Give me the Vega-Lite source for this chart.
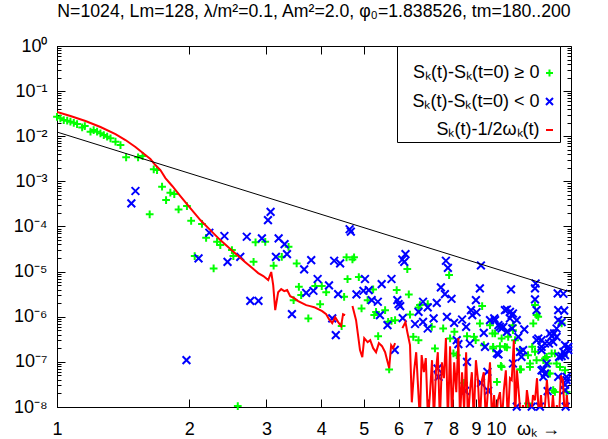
{
  "$schema": "https://vega.github.io/schema/vega-lite/v6.json",
  "width": 514,
  "height": 361,
  "autosize": {"type": "none"},
  "padding": {"left": 57, "top": 46, "right": 37, "bottom": 32},
  "background": "white",
  "title": {
    "text": "N=1024, Lm=128, λ/m²=0.1, Am²=2.0, φ₀=1.838526, tm=180..200",
    "font": "Liberation Sans", "fontSize": 17.7, "fontWeight": "normal", "color": "black",
    "anchor": "middle", "baseline": "alphabetic", "offset": 2
  },
  "datasets": {
    "blk": [{"w": 1, "v": 0.0124}, {"w": 14.82, "v": 3.5e-6}],
    "red": [
      {"w":1.0,"v":0.0344,"t":"half"},{"w":1.073,"v":0.0281,"t":"half"},{"w":1.161,"v":0.0218,"t":"half"},{"w":1.256,"v":0.016,"t":"half"},{"w":1.359,"v":0.0112,"t":"half"},{"w":1.432,"v":0.00825,"t":"half"},{"w":1.509,"v":0.00578,"t":"half"},{"w":1.59,"v":0.00383,"t":"half"},{"w":1.632,"v":0.00313,"t":"half"},{"w":1.675,"v":0.0023,"t":"half"},{"w":1.72,"v":0.00178,"t":"half"},{"w":1.766,"v":0.00118,"t":"half"},{"w":1.83,"v":0.00079,"t":"half"},{"w":1.91,"v":0.000472,"t":"half"},{"w":2.012,"v":0.000256,"t":"half"},{"w":2.121,"v":0.000139,"t":"half"},{"w":2.235,"v":8.3e-5,"t":"half"},{"w":2.355,"v":5.0e-5,"t":"half"},{"w":2.482,"v":3.16e-5,"t":"half"},{"w":2.588,"v":2.21e-5,"t":"half"},{"w":2.685,"v":1.62e-5,"t":"half"},{"w":2.785,"v":1.2e-5,"t":"half"},{"w":2.873,"v":9.26e-6,"t":"half"},{"w":2.951,"v":7.96e-6,"t":"half"},{"w":3.028,"v":6.5e-6,"t":"half"},{"w":3.076,"v":9.8e-6,"t":"half"},{"w":3.108,"v":5.0e-6,"t":"half"},{"w":3.141,"v":1.4e-6,"t":"half"},{"w":3.19,"v":3.5e-6,"t":"half"},{"w":3.241,"v":4.09e-6,"t":"half"},{"w":3.293,"v":3.69e-6,"t":"half"},{"w":3.344,"v":3.9e-6,"t":"half"},{"w":3.398,"v":2.86e-6,"t":"half"},{"w":3.469,"v":2.59e-6,"t":"half"},{"w":3.543,"v":2.22e-6,"t":"half"},{"w":3.618,"v":2.0e-6,"t":"half"},{"w":3.695,"v":1.81e-6,"t":"half"},{"w":3.773,"v":1.72e-6,"t":"half"},{"w":3.854,"v":1.63e-6,"t":"half"},{"w":3.935,"v":1.47e-6,"t":"half"},{"w":4.018,"v":1.33e-6,"t":"half"},{"w":4.104,"v":1.14e-6,"t":"half"},{"w":4.165,"v":8.8e-7,"t":"half"},{"w":4.236,"v":7.2e-7,"t":"half"},{"w":4.301,"v":9.8e-7,"t":"half"},{"w":4.37,"v":7.6e-7,"t":"half"},{"w":4.438,"v":6.2e-7,"t":"half"},{"w":4.484,"v":1.14e-6,"t":"half"},{"w":4.532,"v":1.09e-6,"t":"half"},{"w":4.62,"v":null,"t":"half"},{"w":4.71,"v":1.72e-6,"t":"half"},{"w":4.8,"v":8.4e-7,"t":"half"},{"w":4.85,"v":3.92e-7,"t":"half"},{"w":4.9,"v":1.82e-7,"t":"half"},{"w":4.96,"v":1.27e-7,"t":"half"},{"w":5.01,"v":3.36e-7,"t":"half"},{"w":5.1,"v":2.73e-7,"t":"half"},{"w":5.17,"v":3.03e-7,"t":"half"},{"w":5.25,"v":2.01e-7,"t":"half"},{"w":5.33,"v":1.64e-7,"t":"half"},{"w":5.41,"v":2.6e-7,"t":"half"},{"w":5.5,"v":2.23e-7,"t":"half"},{"w":5.59,"v":1.64e-7,"t":"half"},{"w":5.65,"v":1.09e-7,"t":"half"},{"w":5.71,"v":7.3e-8,"t":"half"},{"w":5.77,"v":2.35e-7,"t":"half"},{"w":5.83,"v":2.01e-7,"t":"half"},{"w":5.89,"v":2.6e-7,"t":"half"},{"w":6.0,"v":null,"t":"half"},{"w":6.12,"v":5.6e-7,"t":"half"},{"w":6.22,"v":7.6e-7,"t":"half"},
      {"w":6.28,"v":4.6e-7,"t":"half"},{"w":6.37,"v":2.35e-7,"t":"half"},{"w":6.43,"v":1.27e-8,"t":"half"},{"w":6.51,"v":6.5e-8,"t":"half"},{"w":6.58,"v":1.64e-7,"t":"half"},{"w":6.66,"v":1.83e-8,"t":"half"},{"w":6.71,"v":5e-9,"t":"half"},{"w":6.77,"v":1.41e-7,"t":"half"},{"w":6.85,"v":5.9e-8,"t":"half"},{"w":6.92,"v":1.21e-7,"t":"half"},{"w":7.0,"v":5e-9,"t":"half"},{"w":7.07,"v":1.83e-8,"t":"half"},{"w":7.15,"v":1.09e-7,"t":"half"},{"w":7.22,"v":5e-9,"t":"half"},{"w":7.3,"v":6.5e-8,"t":"half"},{"w":7.37,"v":1.64e-7,"t":"half"},{"w":7.45,"v":5e-9,"t":"half"},{"w":7.53,"v":9.8e-8,"t":"half"},{"w":7.61,"v":4.35e-8,"t":"half"},{"w":7.69,"v":3.36e-7,"t":"half"},{"w":7.77,"v":5e-9,"t":"half"},{"w":7.86,"v":2.23e-7,"t":"half"},{"w":7.94,"v":5e-9,"t":"half"},{"w":8.03,"v":9.8e-8,"t":"half"},{"w":8.12,"v":2.13e-8,"t":"half"},{"w":8.21,"v":3.36e-7,"t":"half"},{"w":8.28,"v":5e-9,"t":"half"},{"w":8.37,"v":5.9e-8,"t":"half"},{"w":8.46,"v":8.5e-9,"t":"half"},{"w":8.55,"v":1.64e-7,"t":"half"},{"w":8.63,"v":5e-9,"t":"half"},{"w":8.72,"v":2.13e-8,"t":"half"},{"w":8.81,"v":5.9e-8,"t":"half"},{"w":8.9,"v":5e-9,"t":"half"},{"w":9.0,"v":1.09e-7,"t":"half"},{"w":9.09,"v":4.35e-8,"t":"half"},{"w":9.19,"v":5e-9,"t":"half"},{"w":9.29,"v":3.94e-8,"t":"half"},{"w":9.38,"v":5.9e-8,"t":"half"},{"w":9.48,"v":5e-9,"t":"half"},{"w":9.58,"v":2.13e-8,"t":"half"},{"w":9.69,"v":9.8e-8,"t":"half"},{"w":9.79,"v":5e-9,"t":"half"},{"w":9.9,"v":1.83e-8,"t":"half"},{"w":10.0,"v":5e-9,"t":"half"},{"w":10.1,"v":1.41e-8,"t":"half"},{"w":10.21,"v":2.13e-8,"t":"half"},{"w":10.32,"v":5e-9,"t":"half"},{"w":10.42,"v":2.36e-8,"t":"half"},{"w":10.53,"v":6.5e-8,"t":"half"},{"w":10.64,"v":5e-9,"t":"half"},{"w":10.76,"v":4.35e-8,"t":"half"},{"w":10.86,"v":3.94e-8,"t":"half"},{"w":10.98,"v":3.03e-7,"t":"half"},{"w":11.05,"v":5e-9,"t":"half"},{"w":11.16,"v":6.5e-8,"t":"half"},{"w":11.28,"v":1.83e-8,"t":"half"},{"w":11.4,"v":5e-9,"t":"half"},{"w":11.52,"v":1.1e-8,"t":"half"},{"w":11.64,"v":5e-9,"t":"half"},{"w":11.76,"v":2.36e-8,"t":"half"},{"w":11.89,"v":1.1e-8,"t":"half"},{"w":12.01,"v":5e-9,"t":"half"},{"w":12.14,"v":1.83e-8,"t":"half"},{"w":12.27,"v":1.41e-8,"t":"half"},{"w":12.4,"v":4.35e-8,"t":"half"},{"w":12.53,"v":5e-9,"t":"half"},{"w":12.66,"v":1.83e-8,"t":"half"},{"w":12.79,"v":5e-9,"t":"half"},{"w":12.93,"v":1.1e-8,"t":"half"},{"w":13.06,"v":3.94e-8,"t":"half"},{"w":13.2,"v":1.1e-8,"t":"half"},{"w":13.34,"v":5e-9,"t":"half"},{"w":13.48,"v":1.83e-8,"t":"half"},{"w":13.62,"v":5e-9,"t":"half"},{"w":13.76,"v":1.1e-8,"t":"half"},{"w":13.91,"v":5e-9,"t":"half"},{"w":14.05,"v":5.0e-8,"t":"half"},{"w":14.2,"v":3.94e-8,"t":"half"},{"w":14.36,"v":5e-9,"t":"half"},{"w":14.5,"v":1.83e-8,"t":"half"},{"w":14.67,"v":5e-9,"t":"half"}
    ],
    "pos": [
      {"w":1.0,"v":0.027,"t":"pos"},{"w":1.018,"v":0.025,"t":"pos"},{"w":1.036,"v":0.0229,"t":"pos"},{"w":1.055,"v":0.0221,"t":"pos"},{"w":1.073,"v":0.021,"t":"pos"},{"w":1.092,"v":0.0199,"t":"pos"},{"w":1.111,"v":0.0186,"t":"pos"},{"w":1.141,"v":0.0157,"t":"pos"},{"w":1.157,"v":0.0168,"t":"pos"},{"w":1.192,"v":0.0126,"t":"pos"},{"w":1.212,"v":0.0137,"t":"pos"},{"w":1.234,"v":0.0126,"t":"pos"},{"w":1.256,"v":0.0116,"t":"pos"},{"w":1.278,"v":0.0106,"t":"pos"},{"w":1.301,"v":0.00978,"t":"pos"},{"w":1.324,"v":0.009,"t":"pos"},{"w":1.359,"v":0.00757,"t":"pos"},{"w":1.395,"v":0.00639,"t":"pos"},{"w":1.437,"v":0.00341,"t":"pos"},{"w":1.53,"v":0.00341,"t":"pos"},{"w":1.567,"v":0.00364,"t":"pos"},{"w":1.661,"v":0.00185,"t":"pos"},{"w":1.69,"v":0.00178,"t":"pos"},{"w":1.735,"v":0.000761,"t":"pos"},{"w":1.772,"v":0.000385,"t":"pos"},{"w":1.812,"v":0.00056,"t":"pos"},{"w":1.85,"v":0.000524,"t":"pos"},{"w":1.892,"v":0.000239,"t":"pos"},{"w":1.977,"v":0.000284,"t":"pos"},{"w":1.626,"v":0.000186,"t":"pos"},{"w":2.021,"v":0.000134,"t":"pos"},{"w":2.139,"v":0.000114,"t":"pos"},{"w":2.186,"v":5.62e-5,"t":"pos"},{"w":2.315,"v":4.59e-5,"t":"pos"},{"w":2.355,"v":3.87e-5,"t":"pos"},{"w":2.503,"v":3.0e-5,"t":"pos"},{"w":2.522,"v":2.21e-5,"t":"pos"},{"w":2.059,"v":2.21e-5,"t":"pos"},{"w":2.274,"v":1.18e-5,"t":"pos"},{"w":2.581,"v":1.05e-8,"t":"pos"},
      {"w":2.804,"v":1.65e-5,"t":"pos"},{"w":2.833,"v":4.47e-5,"t":"pos"},{"w":2.981,"v":4.59e-5,"t":"pos"},{"w":3.115,"v":1.35e-5,"t":"pos"},{"w":3.369,"v":3.55e-5,"t":"pos"},{"w":3.251,"v":2.13e-5,"t":"pos"},{"w":3.515,"v":1.52e-5,"t":"pos"},{"w":3.556,"v":4.61e-6,"t":"pos"},{"w":3.599,"v":3.02e-6,"t":"pos"},{"w":3.459,"v":2.33e-6,"t":"pos"},{"w":3.737,"v":9.2e-7,"t":"pos"},{"w":3.976,"v":1.9e-6,"t":"pos"},{"w":3.874,"v":4.78e-6,"t":"pos"},{"w":4.01,"v":4.78e-6,"t":"pos"},{"w":4.104,"v":3.5e-6,"t":"pos"},{"w":4.45,"v":6.2e-7,"t":"pos"},{"w":4.509,"v":2.76e-6,"t":"pos"},{"w":4.566,"v":2.07e-5,"t":"pos"},{"w":4.71,"v":1.86e-5,"t":"pos"},{"w":4.75,"v":2.07e-5,"t":"pos"},{"w":4.59,"v":6.84e-6,"t":"pos"},{"w":4.87,"v":7.6e-6,"t":"pos"},{"w":4.94,"v":1.53e-6,"t":"pos"},{"w":5.1,"v":2.33e-6,"t":"pos"},{"w":5.25,"v":4.04e-6,"t":"pos"},{"w":5.28,"v":1.09e-6,"t":"pos"},{"w":5.33,"v":1.28e-6,"t":"pos"},{"w":5.59,"v":1.4e-6,"t":"pos"},{"w":5.68,"v":7.7e-7,"t":"pos"},{"w":5.78,"v":8.1e-7,"t":"pos"},{"w":5.89,"v":8.4e-7,"t":"pos"},{"w":5.94,"v":3.9e-6,"t":"pos"},{"w":5.39,"v":3.72e-7,"t":"pos"},{"w":5.71,"v":6.8e-8,"t":"pos"},
      {"w":6.28,"v":1.14e-5,"t":"pos"},{"w":6.33,"v":3.13e-6,"t":"pos"},{"w":6.37,"v":1.12e-6,"t":"pos"},{"w":6.66,"v":1.61e-6,"t":"pos"},{"w":6.71,"v":1.81e-6,"t":"pos"},{"w":6.99,"v":1.9e-6,"t":"pos"},{"w":6.48,"v":3.59e-7,"t":"pos"},{"w":6.66,"v":3.03e-7,"t":"pos"},{"w":7.26,"v":1.98e-7,"t":"pos"},{"w":7.14,"v":5.98e-7,"t":"pos"},{"w":7.58,"v":5.5e-7,"t":"pos"},{"w":7.82,"v":8.4e-6,"t":"pos"},{"w":7.86,"v":3.3e-7,"t":"pos"},{"w":8.04,"v":4.63e-7,"t":"pos"},{"w":8.0,"v":1.54e-7,"t":"pos"},{"w":8.14,"v":1.41e-7,"t":"pos"},{"w":8.59,"v":3.72e-7,"t":"pos"},{"w":8.91,"v":3.59e-7,"t":"pos"},{"w":8.99,"v":3.03e-7,"t":"pos"},{"w":9.3,"v":1.72e-6,"t":"pos"},{"w":9.19,"v":7.1e-7,"t":"pos"},{"w":9.38,"v":2.35e-7,"t":"pos"},{"w":9.69,"v":6.5e-7,"t":"pos"},{"w":9.85,"v":2.15e-7,"t":"pos"},{"w":9.95,"v":4.27e-7,"t":"pos"},{"w":10.21,"v":5.98e-7,"t":"pos"},{"w":10.26,"v":8.2e-8,"t":"pos"},{"w":10.3,"v":3.3e-7,"t":"pos"},{"w":10.48,"v":2.15e-7,"t":"pos"},{"w":10.66,"v":3.59e-7,"t":"pos"},{"w":10.93,"v":6.5e-7,"t":"pos"},{"w":11.05,"v":3.03e-7,"t":"pos"},{"w":11.34,"v":1.82e-7,"t":"pos"},{"w":11.4,"v":6.8e-8,"t":"pos"},{"w":11.83,"v":1.41e-7,"t":"pos"},{"w":11.95,"v":9.2e-8,"t":"pos"},{"w":12.09,"v":2.15e-7,"t":"pos"},{"w":12.27,"v":1.67e-7,"t":"pos"},{"w":12.27,"v":1.81e-6,"t":"pos"},{"w":12.37,"v":1.09e-6,"t":"pos"},{"w":12.48,"v":9.97e-7,"t":"pos"},{"w":12.82,"v":1.09e-7,"t":"pos"},{"w":13.05,"v":1.29e-7,"t":"pos"},{"w":13.16,"v":9.2e-8,"t":"pos"},{"w":13.27,"v":5.5e-8,"t":"pos"},{"w":13.39,"v":1.54e-7,"t":"pos"},{"w":13.62,"v":2.16e-8,"t":"pos"},{"w":13.74,"v":9.2e-8,"t":"pos"},{"w":14.36,"v":6.5e-8,"t":"pos"},{"w":14.48,"v":2.16e-8,"t":"pos"},{"w":8.46,"v":3.42e-8,"t":"pos"},{"w":10.05,"v":3.6e-8,"t":"pos"},{"w":11.83,"v":1.2e-8,"t":"pos"},
      {"w":12.16,"v":7.1e-7,"t":"pos"},{"w":9.82,"v":4.27e-7,"t":"pos"},{"w":10.21,"v":2.23e-7,"t":"pos"},{"w":10.59,"v":2.09e-7,"t":"pos"},{"w":9.85,"v":1.98e-7,"t":"pos"},{"w":10.93,"v":5.05e-7,"t":"pos"},{"w":10.3,"v":7.7e-8,"t":"pos"},{"w":11.34,"v":6.8e-8,"t":"pos"},{"w":11.95,"v":7.7e-8,"t":"pos"},{"w":12.37,"v":1.09e-7,"t":"pos"},{"w":12.93,"v":1.19e-7,"t":"pos"},{"w":13.16,"v":5.5e-8,"t":"pos"},{"w":13.5,"v":2.36e-8,"t":"pos"},{"w":13.99,"v":7.7e-8,"t":"pos"},{"w":14.11,"v":7.1e-7,"t":"pos"},{"w":13.62,"v":1.54e-7,"t":"pos"},{"w":14.24,"v":1.41e-7,"t":"pos"}
    ],
    "neg": [
      {"w":1.509,"v":6.12e-4,"t":"neg"},{"w":1.477,"v":3.25e-4,"t":"neg"},{"w":2.223,"v":7.26e-5,"t":"neg"},{"w":2.406,"v":6.16e-5,"t":"neg"},{"w":2.101,"v":1.96e-5,"t":"neg"},{"w":2.446,"v":1.65e-5,"t":"neg"},{"w":1.972,"v":1.09e-7,"t":"neg"},{"w":2.615,"v":2.13e-5,"t":"neg"},{"w":2.706,"v":5.92e-5,"t":"neg"},{"w":2.929,"v":5.44e-5,"t":"neg"},{"w":2.756,"v":2.25e-6,"t":"neg"},{"w":2.877,"v":2.25e-6,"t":"neg"},{"w":3.024,"v":1.39e-4,"t":"neg"},{"w":3.066,"v":2.11e-4,"t":"neg"},{"w":3.198,"v":5.44e-5,"t":"neg"},{"w":3.299,"v":4.08e-5,"t":"neg"},{"w":3.341,"v":2.45e-5,"t":"neg"},{"w":3.153,"v":2.13e-5,"t":"neg"},{"w":3.429,"v":1.14e-6,"t":"neg"},{"w":3.656,"v":1.12e-5,"t":"neg"},{"w":3.794,"v":1.8e-5,"t":"neg"},{"w":3.924,"v":6.85e-6,"t":"neg"},{"w":3.838,"v":3.76e-6,"t":"neg"},{"w":3.695,"v":3.38e-6,"t":"neg"},{"w":4.165,"v":4.94e-6,"t":"neg"},{"w":4.236,"v":9.2e-7,"t":"neg"},{"w":4.316,"v":3.92e-7,"t":"neg"},{"w":4.279,"v":1.74e-5,"t":"neg"},{"w":4.415,"v":1.52e-5,"t":"neg"},{"w":4.37,"v":3.17e-6,"t":"neg"},{"w":4.64,"v":8.7e-5,"t":"neg"},{"w":4.67,"v":7.7e-5,"t":"neg"},{"w":4.81,"v":3.13e-6,"t":"neg"},{"w":5.03,"v":6.85e-6,"t":"neg"},{"w":4.99,"v":3.76e-6,"t":"neg"},{"w":5.13,"v":3.9e-6,"t":"neg"},{"w":5.21,"v":2.33e-6,"t":"neg"},{"w":5.38,"v":2.15e-6,"t":"neg"},{"w":5.49,"v":5.3e-6,"t":"neg"},{"w":5.44,"v":1.09e-6,"t":"neg"},{"w":5.66,"v":6.5e-7,"t":"neg"},{"w":5.78,"v":6.85e-6,"t":"neg"},{"w":5.96,"v":2.33e-6,"t":"neg"},{"w":6.0,"v":1.9e-6,"t":"neg"},{"w":6.12,"v":1.86e-5,"t":"neg"},{"w":6.13,"v":9.3e-7,"t":"neg"},{"w":6.22,"v":2.45e-5,"t":"neg"},{"w":6.18,"v":1.65e-5,"t":"neg"},{"w":6.05,"v":1.72e-6,"t":"neg"},{"w":6.82,"v":2.15e-6,"t":"neg"},{"w":6.66,"v":1.28e-6,"t":"neg"},{"w":6.99,"v":1.61e-6,"t":"neg"},{"w":6.54,"v":6.9e-7,"t":"neg"},{"w":6.82,"v":7.7e-7,"t":"neg"},{"w":6.99,"v":5.5e-7,"t":"neg"},{"w":7.21,"v":9.2e-7,"t":"neg"},{"w":7.33,"v":2.03e-6,"t":"neg"},{"w":7.49,"v":4.48e-6,"t":"neg"},{"w":7.65,"v":3.17e-6,"t":"neg"},{"w":7.92,"v":2.5e-6,"t":"neg"},{"w":7.73,"v":9.97e-7,"t":"neg"},{"w":7.69,"v":1.74e-5,"t":"neg"},{"w":7.77,"v":1.21e-5,"t":"neg"},{"w":8.03,"v":7.3e-7,"t":"neg"},{"w":8.14,"v":3.03e-7,"t":"neg"},{"w":8.21,"v":2.47e-7,"t":"neg"},{"w":8.37,"v":8.7e-7,"t":"neg"},{"w":8.55,"v":5.98e-7,"t":"neg"},{"w":8.59,"v":1.0e-7,"t":"neg"},{"w":8.72,"v":2.55e-7,"t":"neg"},{"w":8.83,"v":1.09e-6,"t":"neg"},{"w":8.77,"v":1.4e-6,"t":"neg"},{"w":9.0,"v":2.33e-6,"t":"neg"},{"w":9.19,"v":4.24e-6,"t":"neg"},{"w":9.24,"v":1.37e-5,"t":"neg"},{"w":9.38,"v":4.4e-7,"t":"neg"},{"w":9.44,"v":2.15e-7,"t":"neg"},{"w":9.56,"v":6.0e-8,"t":"neg"},{"w":9.69,"v":8.4e-7,"t":"neg"},{"w":9.91,"v":9.2e-7,"t":"neg"},{"w":10.05,"v":1.54e-7,"t":"neg"},{"w":10.13,"v":1.46e-7,"t":"neg"},{"w":10.21,"v":5.98e-7,"t":"neg"},{"w":10.3,"v":5.5e-7,"t":"neg"},{"w":10.59,"v":1.45e-6,"t":"neg"},{"w":10.76,"v":1.28e-6,"t":"neg"},{"w":10.86,"v":1.09e-6,"t":"neg"},{"w":10.82,"v":4.04e-6,"t":"neg"},{"w":10.89,"v":5.5e-7,"t":"neg"},{"w":11.15,"v":8.4e-7,"t":"neg"},{"w":11.24,"v":3.59e-7,"t":"neg"},{"w":11.34,"v":1.67e-7,"t":"neg"},{"w":10.93,"v":9.2e-8,"t":"neg"},{"w":11.6,"v":5.24e-7,"t":"neg"},{"w":12.27,"v":4.24e-6,"t":"neg"},{"w":12.31,"v":5.46e-6,"t":"neg"},{"w":12.27,"v":2.42e-6,"t":"neg"},{"w":12.37,"v":1.4e-6,"t":"neg"},{"w":12.37,"v":3.03e-7,"t":"neg"},{"w":12.48,"v":3.3e-7,"t":"neg"},{"w":12.7,"v":2.15e-7,"t":"neg"},{"w":12.82,"v":6.8e-8,"t":"neg"},{"w":12.93,"v":5.5e-8,"t":"neg"},{"w":13.05,"v":9.2e-8,"t":"neg"},{"w":13.11,"v":2.24e-8,"t":"neg"},{"w":13.2,"v":2.55e-7,"t":"neg"},{"w":13.39,"v":3.72e-7,"t":"neg"},{"w":13.56,"v":4.27e-7,"t":"neg"},{"w":13.74,"v":5.5e-7,"t":"neg"},{"w":13.86,"v":8.4e-7,"t":"neg"},{"w":13.82,"v":3.29e-6,"t":"neg"},{"w":13.86,"v":1.4e-6,"t":"neg"},{"w":14.24,"v":1.67e-7,"t":"neg"},{"w":14.36,"v":1.41e-7,"t":"neg"},{"w":14.48,"v":4.65e-8,"t":"neg"},{"w":14.61,"v":2.15e-7,"t":"neg"},{"w":14.36,"v":2.36e-8,"t":"neg"},{"w":14.11,"v":1.34e-7,"t":"neg"},{"w":13.92,"v":1.29e-7,"t":"neg"},{"w":11.15,"v":1.02e-8,"t":"neg"},{"w":12.06,"v":1.02e-8,"t":"neg"},{"w":12.59,"v":1.02e-8,"t":"neg"},{"w":14.41,"v":1.02e-8,"t":"neg"},{"w":7.36,"v":7.1e-8,"t":"neg"},{"w":7.4,"v":4.65e-8,"t":"neg"},{"w":8.5,"v":2.28e-8,"t":"neg"},{"w":9.24,"v":3.42e-8,"t":"neg"},{"w":9.6,"v":2.28e-8,"t":"neg"},{"w":5.88,"v":1.85e-7,"t":"neg"},{"w":10.48,"v":1.4e-6,"t":"neg"},{"w":10.93,"v":1.18e-6,"t":"neg"},{"w":10.76,"v":9.2e-7,"t":"neg"},{"w":9.95,"v":8.4e-7,"t":"neg"},{"w":10.13,"v":6.5e-7,"t":"neg"},{"w":10.39,"v":5.98e-7,"t":"neg"},{"w":10.59,"v":4.63e-7,"t":"neg"},{"w":11.53,"v":1.82e-7,"t":"neg"},{"w":11.43,"v":1.29e-7,"t":"neg"},{"w":12.7,"v":3.03e-7,"t":"neg"},{"w":12.93,"v":2.55e-7,"t":"neg"},{"w":13.27,"v":4.27e-7,"t":"neg"},{"w":13.5,"v":2.78e-7,"t":"neg"},{"w":13.74,"v":3.59e-7,"t":"neg"},{"w":14.36,"v":2.35e-7,"t":"neg"},{"w":14.61,"v":1.82e-7,"t":"neg"},{"w":14.48,"v":3.94e-8,"t":"neg"},{"w":12.7,"v":6.5e-8,"t":"neg"},{"w":12.82,"v":4.65e-8,"t":"neg"},{"w":13.86,"v":4.65e-8,"t":"neg"},{"w":14.36,"v":3.08e-8,"t":"neg"},{"w":12.7,"v":1.82e-7,"t":"neg"},{"w":14.24,"v":3.24e-6,"t":"neg"},{"w":14.3,"v":1.37e-6,"t":"neg"},{"w":14.11,"v":7.6e-7,"t":"neg"},{"w":9.03,"v":1.26e-6,"t":"neg"}
    ]
  },
  "resolve": {"axis": {"x": "independent", "y": "independent"}},
  "layer": [
    {
      "data": {"name": "pos"},
      "mark": {"type": "point", "filled": false, "strokeWidth": 2, "size": 60, "opacity": 1},
      "encoding": {
        "x": {"field": "w", "type": "quantitative", "scale": {"type": "log", "domain": [1, 14.82], "nice": false}, "axis": null},
        "y": {"field": "v", "type": "quantitative", "scale": {"type": "log", "domain": [1e-8, 1], "nice": false},
              "axis": {"orient": "left", "values": [2e-8,3e-8,4e-8,5e-8,6e-8,7e-8,8e-8,9e-8,2e-7,3e-7,4e-7,5e-7,6e-7,7e-7,8e-7,9e-7,2e-6,3e-6,4e-6,5e-6,6e-6,7e-6,8e-6,9e-6,2e-5,3e-5,4e-5,5e-5,6e-5,7e-5,8e-5,9e-5,2e-4,3e-4,4e-4,5e-4,6e-4,7e-4,8e-4,9e-4,0.002,0.003,0.004,0.005,0.006,0.007,0.008,0.009,0.02,0.03,0.04,0.05,0.06,0.07,0.08,0.09,0.2,0.3,0.4,0.5,0.6,0.7,0.8,0.9], "labels": false, "domain": false, "tickSize": -4, "title": null}},
        "color": {"field": "t", "type": "nominal", "scale": {"domain": ["pos", "neg", "half"], "range": ["#00ff00", "#0000ff", "#ff0000"]},
                  "legend": {"title": "                                                                                                                         ", "labelExpr": "datum.label == 'pos' ? 'Sₖ(t)-Sₖ(t=0) ≥ 0' : datum.label == 'neg' ? 'Sₖ(t)-Sₖ(t=0) < 0' : 'Sₖ(t)-1/2ωₖ(t)'"}},
        "shape": {"field": "t", "type": "nominal", "scale": {"domain": ["pos", "neg", "half"], "range": ["M-1,0L1,0M0,-1L0,1", "M-1,-1L1,1M-1,1L1,-1", "stroke"]},
                  "legend": {"title": "                                                                                                                         ", "labelExpr": "datum.label == 'pos' ? 'Sₖ(t)-Sₖ(t=0) ≥ 0' : datum.label == 'neg' ? 'Sₖ(t)-Sₖ(t=0) < 0' : 'Sₖ(t)-1/2ωₖ(t)'"}}
      }
    },
    {
      "data": {"name": "neg"},
      "mark": {"type": "point", "filled": false, "strokeWidth": 2, "size": 60, "opacity": 1},
      "encoding": {
        "x": {"field": "w", "type": "quantitative", "axis": null},
        "y": {"field": "v", "type": "quantitative",
              "axis": {"orient": "right", "values": [2e-8,3e-8,4e-8,5e-8,6e-8,7e-8,8e-8,9e-8,2e-7,3e-7,4e-7,5e-7,6e-7,7e-7,8e-7,9e-7,2e-6,3e-6,4e-6,5e-6,6e-6,7e-6,8e-6,9e-6,2e-5,3e-5,4e-5,5e-5,6e-5,7e-5,8e-5,9e-5,2e-4,3e-4,4e-4,5e-4,6e-4,7e-4,8e-4,9e-4,0.002,0.003,0.004,0.005,0.006,0.007,0.008,0.009,0.02,0.03,0.04,0.05,0.06,0.07,0.08,0.09,0.2,0.3,0.4,0.5,0.6,0.7,0.8,0.9], "labels": false, "domain": false, "tickSize": -4, "title": null}},
        "color": {"field": "t", "type": "nominal"},
        "shape": {"field": "t", "type": "nominal"}
      }
    },
    {
      "data": {"name": "red"},
      "mark": {"type": "line", "color": "#ff0000", "strokeWidth": 2, "clip": true, "invalid": "break-paths-filter-domains"},
      "encoding": {
        "x": {"field": "w", "type": "quantitative", "axis": {"orient": "top", "values": [1,2,3,4,5,6,7,8,9,10], "labels": false, "domain": false, "tickSize": -8, "title": null}},
        "y": {"field": "v", "type": "quantitative", "axis": {"orient": "right", "values": [1e-8,1e-7,1e-6,1e-5,1e-4,0.001,0.01,0.1,1], "labels": false, "domain": false, "tickSize": -8, "title": null}},
        "color": {"field": "t", "type": "nominal"}
      }
    },
    {
      "data": {"name": "blk"},
      "mark": {"type": "line", "color": "black", "strokeWidth": 1, "clip": true},
      "encoding": {
        "x": {"field": "w", "type": "quantitative",
              "axis": {"orient": "bottom", "values": [1,2,3,4,5,6,7,8,9,10], "format": "d", "tickSize": -8, "labelPadding": 35, "labelBaseline": "alphabetic",
                       "title": "ωₖ →", "titleX": 481, "titleY": 27, "titleAlign": "center", "titleBaseline": "alphabetic", "titleAnchor": null}},
        "y": {"field": "v", "type": "quantitative",
              "axis": {"orient": "left", "values": [1e-8,1e-7,1e-6,1e-5,1e-4,0.001,0.01,0.1,1], "tickSize": -8, "labelPadding": 18, "labelBaseline": "middle", "title": null,
                       "labelExpr": "'10' + (datum.value > 0.5 ? '⁰' : '⁻' + substring('⁰¹²³⁴⁵⁶⁷⁸⁹', round(-log(datum.value)/LN10), round(-log(datum.value)/LN10) + 1))"}}
      }
    }
  ],
  "config": {
    "view": {"stroke": "black", "strokeWidth": 1},
    "axis": {"labelFont": "Liberation Sans", "labelFontSize": 18, "labelColor": "black", "domainColor": "black", "tickColor": "black", "grid": false,
             "titleFont": "Liberation Sans", "titleFontSize": 18, "titleFontWeight": "normal", "titleColor": "black", "labelOverlap": false, "labelFlush": false},
    "legend": {"orient": "none", "legendX": 340, "legendY": 0, "labelFont": "Liberation Sans", "labelFontSize": 18, "labelColor": "black",
               "labelAlign": "right", "labelOffset": -19, "symbolOffset": 140.5, "labelLimit": 300, "symbolSize": 49, "symbolStrokeWidth": 2, "strokeColor": "black",
               "padding": 3, "rowPadding": 10.5, "fillColor": "white",
               "titleFont": "Liberation Sans", "titleFontSize": 5, "titlePadding": 10, "titleLimit": 1000}
  }
}
